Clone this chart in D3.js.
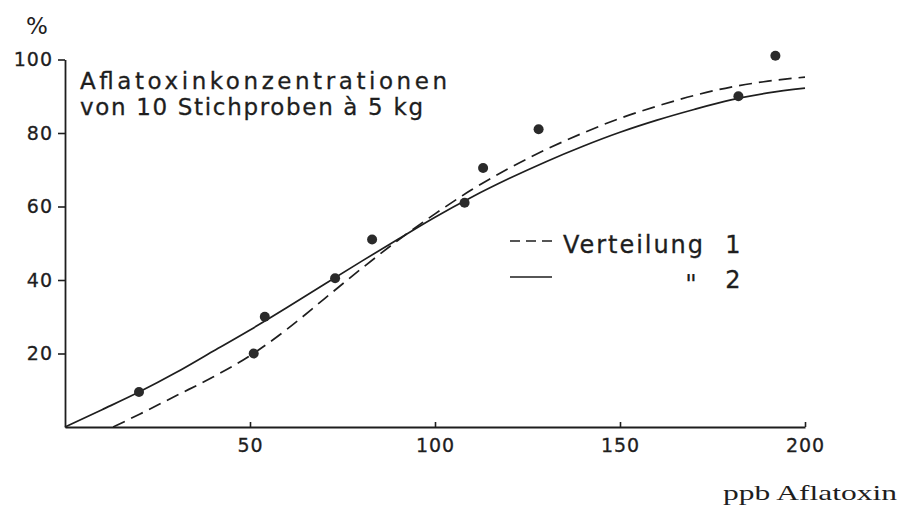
<!DOCTYPE html>
<html>
<head>
<meta charset="utf-8">
<script src="https://cdn.jsdelivr.net/npm/d3@7"></script>
<style>
  html, body { margin: 0; padding: 0; background: #ffffff; }
  svg { display: block; }
  text { fill: #1e1e1e; }
</style>
</head>
<body>
<svg id="chart" width="900" height="506"></svg>
<script>
// ---- data ----
const sampleX = [20, 51, 54, 73, 83, 108, 113, 128, 182, 192];
const sampleY = [9.5, 20, 30, 40.5, 51, 61, 70.5, 81, 90, 101];

const dist2X = [0, 10, 20, 30, 40, 50, 60, 70, 80, 90, 100, 110, 120, 130, 140, 150, 160, 170, 180, 190, 200];
const dist2Y = [0, 4.7, 9.5, 14.8, 20.6, 26.4, 32.5, 38.8, 45, 51.1, 57.1, 62.6, 67.6, 72.2, 76.4, 80.2, 83.5, 86.4, 89, 90.9, 92.2];

const dist1X = [13, 20, 30, 40, 50, 60, 70, 80, 90, 100, 110, 120, 130, 140, 150, 160, 170, 180, 190, 200];
const dist1Y = [0, 3.4, 8.5, 13.6, 19.4, 26.6, 34.8, 43, 50.8, 58, 64.6, 70.4, 75.5, 80, 84, 87.3, 90.2, 92.5, 94.1, 95.2];

const xTicks = [50, 100, 150, 200];
const yTicks = [20, 40, 60, 80, 100];

const titleLines = ["Aflatoxinkonzentrationen", "von 10 Stichproben à 5 kg"];
const legendLabels = ["Verteilung", "\"", "1", "2"];
const xAxisTitle = "ppb Aflatoxin";
const yAxisTitle = "%";

// ---- drawing ----
const ink = "#1e1e1e";
const sans = "'DejaVu Sans', 'Liberation Sans', sans-serif";
const svg = d3.select("#chart");

const x = d3.scaleLinear().domain([0, 200]).range([65, 805]);
const y = d3.scaleLinear().domain([0, 100]).range([427, 59.5]);

// x axis: ticks pointing upward
const xAxis = svg.append("g")
  .attr("transform", `translate(0,${y(0)})`)
  .call(d3.axisBottom(x).tickValues(xTicks).tickSize(-5).tickPadding(11).tickSizeOuter(0));
xAxis.select(".domain").attr("stroke", ink).attr("stroke-width", 1.8);
xAxis.selectAll(".tick line").attr("stroke", ink).attr("stroke-width", 1.6);
xAxis.selectAll(".tick text")
  .attr("fill", ink).attr("font-family", sans).attr("font-size", 19)
  .attr("letter-spacing", 1).attr("stroke", ink).attr("stroke-width", 0.3)
  .attr("dy", "0.75em");

// y axis
const yAxis = svg.append("g")
  .attr("transform", `translate(${x(0)},0)`)
  .call(d3.axisLeft(y).tickValues(yTicks).tickSize(7).tickPadding(5).tickSizeOuter(0));
yAxis.select(".domain").attr("stroke", ink).attr("stroke-width", 1.8);
yAxis.selectAll(".tick line").attr("stroke", ink).attr("stroke-width", 1.6);
yAxis.selectAll(".tick text")
  .attr("fill", ink).attr("font-family", sans).attr("font-size", 19)
  .attr("stroke", ink).attr("stroke-width", 0.3)
  .attr("letter-spacing", 1);

// axis titles
svg.append("text").attr("x", 37).attr("y", 34).attr("text-anchor", "middle")
  .attr("font-family", sans).attr("font-size", 23).text(yAxisTitle);
svg.append("text").attr("x", 897).attr("y", 500).attr("text-anchor", "end")
  .attr("font-family", "'Liberation Serif', 'DejaVu Serif', serif").attr("font-size", 21)
  .attr("textLength", 174).attr("lengthAdjust", "spacingAndGlyphs")
  .text(xAxisTitle);

// curves
const line = d3.line().x(d => x(d[0])).y(d => y(d[1])).curve(d3.curveMonotoneX);
const d2 = dist2X.map((v, i) => [v, dist2Y[i]]);
const d1 = dist1X.map((v, i) => [v, dist1Y[i]]);

svg.append("path").attr("d", line(d2)).attr("fill", "none")
  .attr("stroke", ink).attr("stroke-width", 1.7);
svg.append("path").attr("d", line(d1)).attr("fill", "none")
  .attr("stroke", ink).attr("stroke-width", 1.7).attr("stroke-dasharray", "13,7");

// sample points
svg.append("g").selectAll("circle")
  .data(sampleX.map((v, i) => [v, sampleY[i]]))
  .join("circle")
  .attr("cx", d => x(d[0])).attr("cy", d => y(d[1])).attr("r", 5)
  .attr("fill", "#2a2a2a");

// annotation
svg.append("text").attr("x", 80).attr("y", 89)
  .attr("font-family", sans).attr("font-size", 23)
  .attr("stroke", ink).attr("stroke-width", 0.3)
  .attr("textLength", 367).attr("lengthAdjust", "spacing").text(titleLines[0]);
svg.append("text").attr("x", 80).attr("y", 115)
  .attr("font-family", sans).attr("font-size", 23)
  .attr("stroke", ink).attr("stroke-width", 0.3)
  .attr("textLength", 343).attr("lengthAdjust", "spacing").text(titleLines[1]);

// legend
svg.append("line").attr("x1", 510).attr("x2", 554).attr("y1", 241).attr("y2", 241)
  .attr("stroke", ink).attr("stroke-width", 1.7).attr("stroke-dasharray", "10,6");
svg.append("line").attr("x1", 510).attr("x2", 552).attr("y1", 277).attr("y2", 277)
  .attr("stroke", ink).attr("stroke-width", 1.7);
svg.append("text").attr("x", 563).attr("y", 253)
  .attr("font-family", sans).attr("font-size", 24)
  .attr("stroke", ink).attr("stroke-width", 0.3)
  .attr("textLength", 140).attr("lengthAdjust", "spacing").text(legendLabels[0]);
svg.append("text").attr("x", 691).attr("y", 294).attr("text-anchor", "middle")
  .attr("font-family", sans).attr("font-size", 26).text(legendLabels[1]);
svg.append("text").attr("x", 733).attr("y", 253).attr("text-anchor", "middle")
  .attr("font-family", sans).attr("font-size", 24)
  .attr("stroke", ink).attr("stroke-width", 0.3).text(legendLabels[2]);
svg.append("text").attr("x", 733).attr("y", 288).attr("text-anchor", "middle")
  .attr("font-family", sans).attr("font-size", 24)
  .attr("stroke", ink).attr("stroke-width", 0.3).text(legendLabels[3]);
</script>
</body>
</html>
